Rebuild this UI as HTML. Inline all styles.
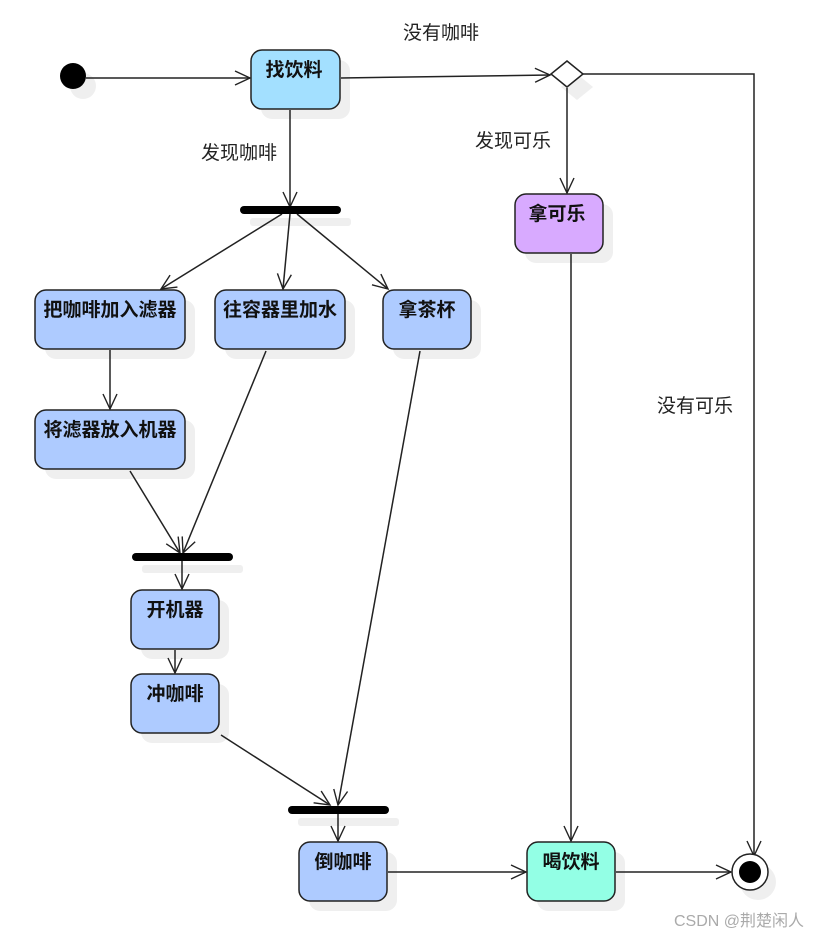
<!DOCTYPE html>
<html><head><meta charset="utf-8"><style>
html,body{margin:0;padding:0;background:#fff;}
svg{display:block;}
.b{font-family:"Liberation Sans","Noto Sans CJK SC",sans-serif;font-weight:bold;font-size:19px;fill:#111;}
.l{font-family:"Liberation Sans","Noto Sans CJK SC",sans-serif;font-size:19px;fill:#222;}
</style></head><body>
<svg width="826" height="938" viewBox="0 0 826 938" xmlns="http://www.w3.org/2000/svg">
<defs>
<marker id="a" markerWidth="20" markerHeight="20" refX="16" refY="8" orient="auto" markerUnits="userSpaceOnUse">
<path d="M1,1 L16,8 L1,15" fill="none" stroke="#222" stroke-width="1.4"/>
</marker>
</defs>
<g fill="#efefef">
<circle cx="83" cy="86" r="13"/>
<rect x="261" y="60" width="89" height="59" rx="11"/>
<rect x="525" y="204" width="88" height="59" rx="11"/>
<rect x="45" y="300" width="150" height="59" rx="11"/>
<rect x="225" y="300" width="130" height="59" rx="11"/>
<rect x="393" y="300" width="88" height="59" rx="11"/>
<rect x="45" y="420" width="150" height="59" rx="11"/>
<rect x="141" y="600" width="88" height="59" rx="11"/>
<rect x="141" y="684" width="88" height="59" rx="11"/>
<rect x="309" y="852" width="88" height="59" rx="11"/>
<rect x="537" y="852" width="88" height="59" rx="11"/>
<rect x="250" y="218" width="101" height="8" rx="3"/>
<rect x="142" y="565" width="101" height="8" rx="3"/>
<rect x="298" y="818" width="101" height="8" rx="3"/>
<circle cx="758" cy="882" r="18"/>
<path d="M577,74 L593,87 L577,100 L561,87Z"/>
</g>
<g stroke="#222" stroke-width="1.5" fill="none" marker-end="url(#a)">
<line x1="86" y1="78" x2="250" y2="78"/>
<line x1="341" y1="78" x2="550" y2="75"/>
<polyline points="583,74 754,74 754,856"/>
<line x1="567" y1="88" x2="567" y2="193"/>
<line x1="571" y1="254" x2="571" y2="841"/>
<line x1="616" y1="872" x2="731" y2="872"/>
<line x1="290" y1="110" x2="290" y2="207"/>
<line x1="282" y1="214" x2="161" y2="289"/>
<line x1="290" y1="214" x2="283" y2="289"/>
<line x1="297" y1="214" x2="388" y2="289"/>
<line x1="110" y1="350" x2="110" y2="409"/>
<line x1="130" y1="471" x2="180" y2="553"/>
<line x1="266" y1="351" x2="183" y2="553"/>
<line x1="182" y1="561" x2="182" y2="589"/>
<line x1="175" y1="650" x2="175" y2="673"/>
<line x1="221" y1="735" x2="330" y2="805"/>
<line x1="420" y1="351" x2="338" y2="805"/>
<line x1="338" y1="814" x2="338" y2="841"/>
<line x1="388" y1="872" x2="526" y2="872"/>
</g>
<circle cx="73" cy="76" r="13" fill="#000"/>
<path d="M567,61 L583,74 L567,87 L551,74Z" fill="#fff" stroke="#222" stroke-width="1.5"/>
<rect x="240" y="206" width="101" height="8" rx="4" fill="#000"/>
<rect x="132" y="553" width="101" height="8" rx="4" fill="#000"/>
<rect x="288" y="806" width="101" height="8" rx="4" fill="#000"/>
<circle cx="750" cy="872" r="18" fill="#fff" stroke="#222" stroke-width="1.5"/>
<circle cx="750" cy="872" r="11" fill="#000"/>
<g stroke="#222" stroke-width="1.5">
<rect x="251" y="50" width="89" height="59" rx="11" fill="#a3e0ff"/>
<rect x="515" y="194" width="88" height="59" rx="11" fill="#d8aaff"/>
<rect x="35" y="290" width="150" height="59" rx="11" fill="#aecbff"/>
<rect x="215" y="290" width="130" height="59" rx="11" fill="#aecbff"/>
<rect x="383" y="290" width="88" height="59" rx="11" fill="#aecbff"/>
<rect x="35" y="410" width="150" height="59" rx="11" fill="#aecbff"/>
<rect x="131" y="590" width="88" height="59" rx="11" fill="#aecbff"/>
<rect x="131" y="674" width="88" height="59" rx="11" fill="#aecbff"/>
<rect x="299" y="842" width="88" height="59" rx="11" fill="#aecbff"/>
<rect x="527" y="842" width="88" height="59" rx="11" fill="#93ffe5"/>
</g>
<g class="b" text-anchor="middle">
<text x="294" y="76">找饮料</text>
<text x="557" y="220">拿可乐</text>
<text x="110" y="316">把咖啡加入滤器</text>
<text x="280" y="316">往容器里加水</text>
<text x="427" y="316">拿茶杯</text>
<text x="110" y="436">将滤器放入机器</text>
<text x="175" y="616">开机器</text>
<text x="175" y="700">冲咖啡</text>
<text x="343" y="868">倒咖啡</text>
<text x="571" y="868">喝饮料</text>
</g>
<g class="l">
<text x="403" y="39">没有咖啡</text>
<text x="201" y="159">发现咖啡</text>
<text x="475" y="147">发现可乐</text>
<text x="657" y="412">没有可乐</text>
</g>
<text x="674" y="926" font-family="Liberation Sans,Noto Sans CJK SC,sans-serif" font-size="16" fill="#aaa">CSDN @荆楚闲人</text>
</svg>
</body></html>
